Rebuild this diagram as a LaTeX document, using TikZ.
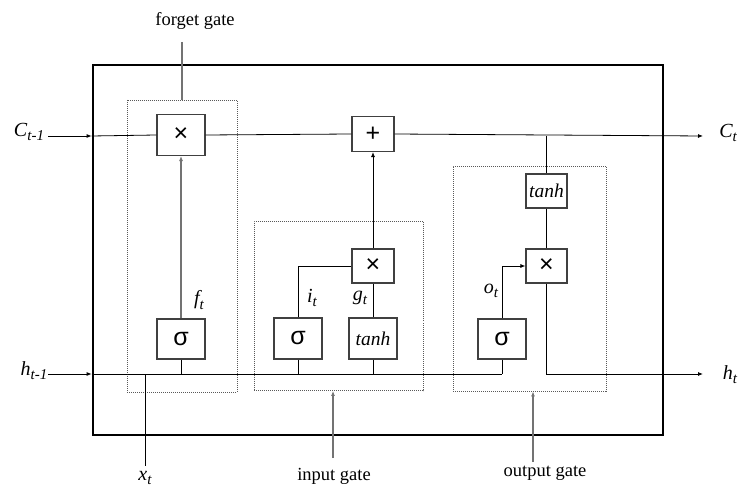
\documentclass[tikz,border=0pt]{standalone}
\usepackage{fontspec}
\setmainfont{Liberation Serif}
\newfontfamily\symfont{Liberation Sans}
\usetikzlibrary{arrows.meta}
\newcommand\sbs[1]{\raisebox{-0.45ex}{\fontsize{15}{15}\selectfont #1}}
\begin{document}
\begin{tikzpicture}[x=1pt,y=-1pt,
  opbox/.style={draw=black!75,line width=1.1pt,fill=white,inner sep=0pt,minimum width=#1},
  opbox/.default=48,
  gatebox/.style={draw=black!65,line width=0.8pt,dash pattern=on 1pt off 1pt},
  wire/.style={draw=black,line width=0.8pt},
  gwire/.style={draw=black!55,line width=1.2pt},
  arr/.style={-{Latex[length=5pt,width=4pt]}},
  lbl/.style={font=\fontsize{18.5}{20}\selectfont,inner sep=0pt},
  vlbl/.style={font=\itshape\fontsize{20}{22}\selectfont,inner sep=0pt},
  sym/.style={font=\symfont\fontsize{25}{26}\selectfont},
  tnh/.style={font=\itshape\fontsize{19.5}{21}\selectfont}
]
\useasboundingbox (0,0) rectangle (739,489);
% outer cell
\node[draw=black,line width=2.8pt,minimum width=570pt,minimum height=370pt,inner sep=0pt] (cell) at (378,250) {};
% gate boxes
\node[gatebox,minimum width=110pt,minimum height=292pt,inner sep=0pt] (fg) at (182,246) {};
\node[gatebox,minimum width=169pt,minimum height=169pt,inner sep=0pt] (ig) at (338.5,306) {};
\node[gatebox,minimum width=153pt,minimum height=225pt,inner sep=0pt] (og) at (529.5,278.5) {};
% operation boxes
\node[opbox,minimum height=41pt,sym] (fx) at (181,135) {×};
\node[opbox=42,minimum height=35pt,sym] (plus) at (373,134) {+};
\node[opbox=41,minimum height=34pt,tnh] (ttanh) at (546.5,191) {tanh};
\node[opbox=41,minimum height=34pt,sym] (ox) at (546.5,266) {×};
\node[opbox,minimum height=40pt,sym] (osig) at (502,339) {σ};
\node[opbox=42,minimum height=34pt,sym] (ix) at (373,266) {×};
\node[opbox,minimum height=41pt,sym] (isig) at (298,338.5) {σ};
\node[opbox,minimum height=41pt,tnh] (gtanh) at (373,338.5) {tanh};
\node[opbox,minimum height=40pt,sym] (fsig) at (181,339) {σ};
% coordinates
\coordinate (Cin) at (48,136);
\coordinate (Cedge) at (cell.west|-Cin);
\coordinate (Cout) at (703,136);
\coordinate (Cbr) at (546.5,136);
\coordinate (hin) at (48,374);
\coordinate (hedge) at (cell.west|-hin);
\coordinate (hend) at (502,374);
\coordinate (hcorner) at (546.5,374);
\coordinate (hout) at (703,374);
\coordinate (xtop) at (145,374);
\coordinate (xbot) at (145,466);
\coordinate (fgtop) at (182,42);
\coordinate (igtail) at (333,458);
\coordinate (ogtail) at (533,462);
% labels
\node[lbl] (flabel) at (195,21) {forget gate};
\node[lbl] (ilabel) at (334,476) {input gate};
\node[lbl] (olabel) at (545,473) {output gate};
\node[vlbl] (Ctm) at (29,132) {C\sbs{t-1}};
\node[vlbl] (Ct) at (728,133) {C\sbs{t}};
\node[vlbl] (htm) at (34,371) {h\sbs{t-1}};
\node[vlbl] (ht) at (730,375) {h\sbs{t}};
\node[vlbl] (xt) at (145,478) {x\sbs{t}};
\node[vlbl] (ft) at (199,300) {f\sbs{t}};
\node[vlbl] (it) at (312,298) {i\sbs{t}};
\node[vlbl] (gt) at (360,298) {g\sbs{t}};
\node[vlbl] (ot) at (491,291) {o\sbs{t}};
% cell state line
\draw[wire,arr] (Cin) -- (Cedge);
\draw[wire] (Cedge) -- (fx.west);
\draw[wire] (fx.east) -- (plus.west);
\draw[wire,arr] (plus.east) -- (Cout);
\draw[wire] (Cbr) -- (ttanh.north);
\draw[wire] (ttanh.south) -- (ox.north);
% hidden state line
\draw[wire,arr] (hin) -- (hedge);
\draw[wire] (hedge) -- (hend);
\draw[wire] (osig.south) -- (hend);
\draw[wire] (fsig.south) -- (fsig.south|-hin);
\draw[wire] (isig.south) -- (isig.south|-hin);
\draw[wire] (gtanh.south) -- (gtanh.south|-hin);
\draw[wire,arr] (ox.south) -- (hcorner) -- (hout);
\draw[wire] (xtop) -- (xbot);
% gates
\draw[gwire,arr] (fsig.north) -- (fx.south);
\draw[wire] (isig.north) |- (ix.west);
\draw[wire] (gtanh.north) -- (ix.south);
\draw[wire,arr] (ix.north) -- (plus.south);
\draw[wire,arr] (osig.north) |- (ox.west);
% label pointers
\draw[gwire] (fgtop) -- (fg.north-|fgtop);
\draw[gwire,arr] (igtail) -- (ig.south-|igtail);
\draw[gwire,arr] (ogtail) -- (og.south-|ogtail);
\end{tikzpicture}
\end{document}
